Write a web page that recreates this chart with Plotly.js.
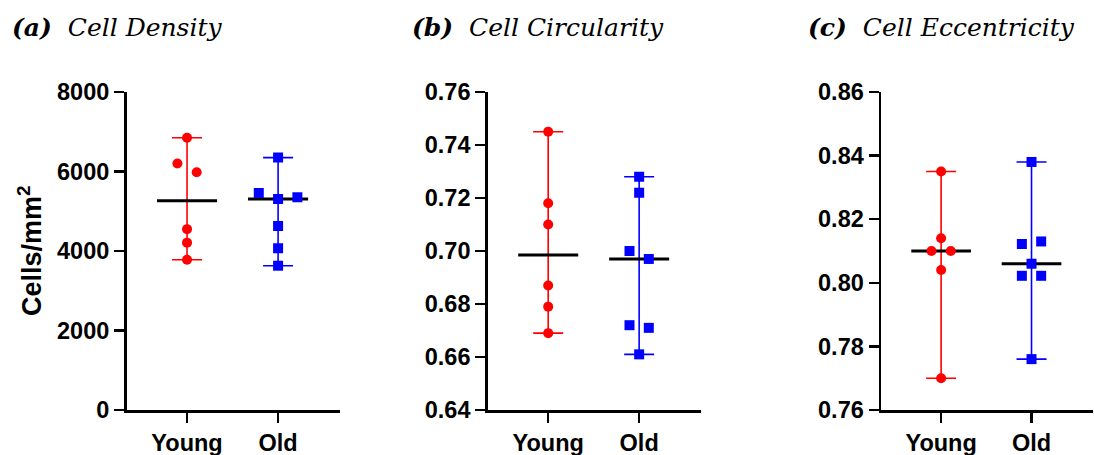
<!DOCTYPE html>
<html>
<head>
<meta charset="utf-8">
<script src="https://cdn.plot.ly/plotly-3.0.1.min.js"></script>
<style>html,body{margin:0;padding:0;background:#fff;}#chart{width:1094px;height:455px;}</style>
</head>
<body>
<div id="chart"></div>
<script>
// ---- data ----
const groups = ["Young", "Old"];
const panelTitles = ["(a)", "(b)", "(c)"];
const panelNames = ["Cell Density", "Cell Circularity", "Cell Eccentricity"];
const yAxisTitle = "Cells/mm<sup>2</sup>";

const densityYoung = [6850, 6200, 5980, 4550, 4210, 3780];
const densityOld = [6350, 5460, 5310, 5350, 4630, 4070, 3630];
const circularityYoung = [0.745, 0.718, 0.710, 0.687, 0.679, 0.669];
const circularityOld = [0.728, 0.722, 0.700, 0.697, 0.672, 0.671, 0.661];
const eccentricityYoung = [0.835, 0.814, 0.810, 0.810, 0.804, 0.770];
const eccentricityOld = [0.838, 0.8122, 0.8130, 0.806, 0.8022, 0.8022, 0.776];

const yTicks = [
  [0, 2000, 4000, 6000, 8000],
  [0.64, 0.66, 0.68, 0.70, 0.72, 0.74, 0.76],
  [0.76, 0.78, 0.80, 0.82, 0.84, 0.86]
];

// ---- layout constants ----
const W = 1094, H = 455;
const plotTop = 92, plotBottom = 410;
const xDomainsPx = [[126.5, 340], [487.7, 701], [881, 1093]];
const xRange = [-0.665, 1.68];
const colors = ["#FF0000", "#0000FF"];
const symbols = ["circle", "square"];

const panels = [
  [densityYoung, densityOld],
  [circularityYoung, circularityOld],
  [eccentricityYoung, eccentricityOld]
];

function median(a) {
  const s = a.slice().sort((x, y) => x - y);
  const n = s.length;
  return n % 2 ? s[(n - 1) / 2] : (s[n / 2 - 1] + s[n / 2]) / 2;
}

function swarmOffsets(vals, ySpan, plotHpx, pxPerUnit) {
  const thresh = 10, spacing = 19.3;
  const idx = vals.map((v, i) => i).sort((a, b) => vals[b] - vals[a]);
  const clusters = [];
  let cur = [idx[0]];
  for (let k = 1; k < idx.length; k++) {
    const gapPx = (vals[idx[k - 1]] - vals[idx[k]]) * plotHpx / ySpan;
    if (gapPx < thresh) cur.push(idx[k]); else { clusters.push(cur); cur = [idx[k]]; }
  }
  clusters.push(cur);
  const off = new Array(vals.length).fill(0);
  clusters.forEach(c => {
    c.sort((a, b) => a - b);
    const n = c.length;
    c.forEach((i, j) => { off[i] = (j - (n - 1) / 2) * spacing / pxPerUnit; });
  });
  return off;
}

const traces = [];
const layout = {
  width: W, height: H,
  margin: {l: 0, r: 0, t: 0, b: 0},
  paper_bgcolor: "#fff", plot_bgcolor: "#fff",
  showlegend: false,
  hovermode: false,
  annotations: []
};

const tickFont = {family: "Liberation Sans, Arial, sans-serif", size: 23.5, color: "#000", weight: "bold"};
const plotHpx = plotBottom - plotTop;

panels.forEach((pair, p) => {
  const sx = p === 0 ? "" : String(p + 1);
  const xa = "x" + sx, ya = "y" + sx;
  const dom = xDomainsPx[p];
  const pxPerUnit = (dom[1] - dom[0]) / (xRange[1] - xRange[0]);
  const ticks = yTicks[p];
  const yr = [ticks[0], ticks[ticks.length - 1]];
  const ySpan = yr[1] - yr[0];

  pair.forEach((vals, g) => {
    const med = median(vals);
    const mn = Math.min(...vals), mx = Math.max(...vals);
    // range bar
    traces.push({
      type: "scatter", mode: "markers", x: [g], y: [med], xaxis: xa, yaxis: ya,
      marker: {size: 1, opacity: 0},
      error_y: {type: "data", symmetric: false, array: [mx - med], arrayminus: [med - mn],
        color: colors[g], thickness: 1.6, width: 15}
    });
    // median line
    traces.push({
      type: "scatter", mode: "lines", x: [g - 0.33, g + 0.33], y: [med, med], xaxis: xa, yaxis: ya,
      line: {color: "#000", width: 3}
    });
    // points
    const off = swarmOffsets(vals, ySpan, plotHpx, pxPerUnit);
    traces.push({
      type: "scatter", mode: "markers", x: vals.map((v, i) => g + off[i]), y: vals, xaxis: xa, yaxis: ya,
      marker: {color: colors[g], symbol: symbols[g], size: 10, line: {width: 0}}
    });
  });

  layout["xaxis" + sx] = {
    domain: [dom[0] / W, dom[1] / W], range: xRange, anchor: ya,
    tickmode: "array", tickvals: [0, 1], ticktext: groups,
    ticks: "outside", ticklen: 10, tickwidth: 2.5, tickcolor: "#000",
    showline: true, linewidth: 2.5, linecolor: "#000",
    showgrid: false, zeroline: false, tickfont: tickFont, automargin: false, fixedrange: true
  };
  layout["yaxis" + sx] = {
    domain: [(H - plotBottom) / H, (H - plotTop) / H], range: yr, anchor: xa,
    tickmode: "array", tickvals: ticks,
    ticktext: ticks.map(t => p === 0 ? String(t) : t.toFixed(2)),
    ticks: "outside", ticklen: 10, tickwidth: 2.5, tickcolor: "#000",
    showline: true, linewidth: 2.5, linecolor: "#000",
    showgrid: false, zeroline: false, tickfont: tickFont, automargin: false, fixedrange: true
  };

  const titleX = [10, 410, 806][p];
  layout.annotations.push({
    xref: "paper", yref: "paper", x: titleX / W, y: 1 - 27 / H,
    xanchor: "left", yanchor: "middle", showarrow: false,
    text: "<b><i>" + panelTitles[p] + "</i></b>  <i>" + panelNames[p] + "</i>",
    font: {family: "DejaVu Serif, serif", size: 25, color: "#000"}
  });
});

layout.annotations.push({
  xref: "paper", yref: "paper", x: 30 / W, y: 1 - 251 / H,
  xanchor: "center", yanchor: "middle", showarrow: false, textangle: -90,
  text: "<b>" + yAxisTitle + "</b>",
  font: {family: "Liberation Sans, Arial, sans-serif", size: 27, color: "#000"}
});

Plotly.newPlot("chart", traces, layout, {displayModeBar: false, staticPlot: true});
</script>
</body>
</html>
